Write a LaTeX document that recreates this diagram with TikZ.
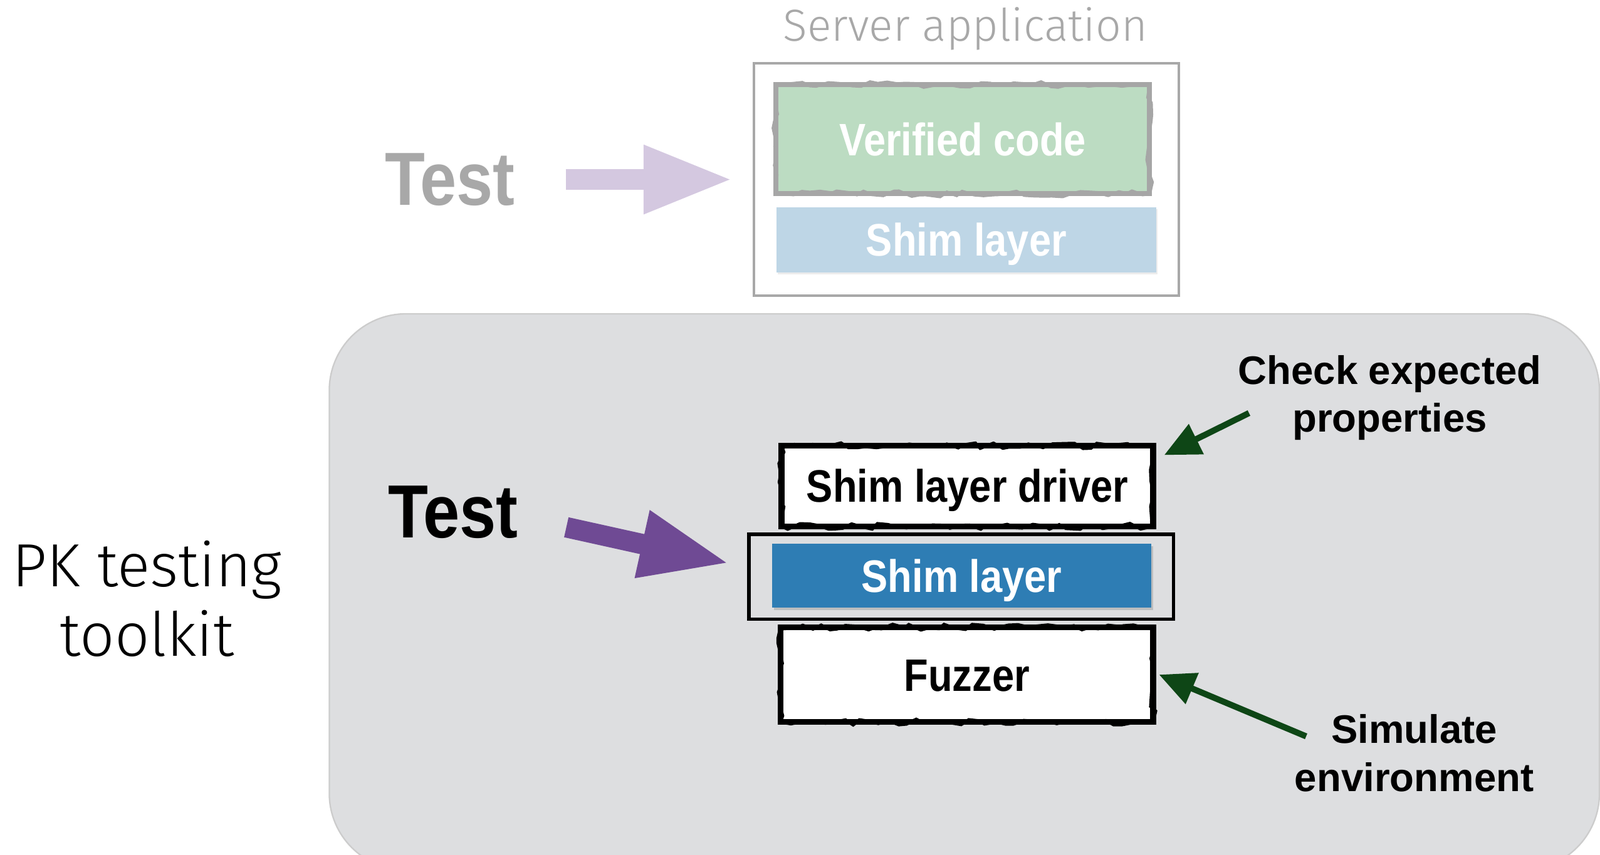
\documentclass[tikz,border=0pt]{standalone}
\usepackage{fontspec}
\setmainfont{Liberation Sans}
\newfontfamily\lightfont{Fira Sans Light}
\newfontfamily\condfont{Liberation Sans}[FakeStretch=0.87]
\usetikzlibrary{positioning,calc,arrows.meta,decorations.pathmorphing,shadows}

\definecolor{panelgray}{RGB}{221,222,224}
\definecolor{fadegray}{RGB}{168,168,168}
\definecolor{codegreen}{RGB}{188,220,194}
\definecolor{shimpale}{RGB}{190,214,230}
\definecolor{shimblue}{RGB}{46,125,180}
\definecolor{lilac}{RGB}{212,200,224}
\definecolor{plum}{RGB}{111,74,148}
\definecolor{pinegreen}{RGB}{14,70,22}

\tikzset{
  every node/.style={inner sep=0pt},
  layerfont/.style={font=\condfont\bfseries\fontsize{12.7}{15}\selectfont, text height=9.1pt, text depth=0pt},
  roughedge/.style={postaction={draw=#1, line width=0.9pt, decorate,
      decoration={random steps, segment length=2.5pt, amplitude=0.8pt}}},
  roughbox/.style={layerfont, fill=white, draw=black, line width=1.6pt, roughedge=black,
      drop shadow={shadow xshift=0.6pt, shadow yshift=-0.8pt, opacity=0.35}},
  paleroughbox/.style={layerfont, fill=codegreen, draw=gray!70, line width=1.4pt, text=white, roughedge=gray!70},
  palelayer/.style={layerfont, fill=shimpale, text=white,
      drop shadow={shadow xshift=0.4pt, shadow yshift=-0.6pt, opacity=0.15}},
  bluelayer/.style={layerfont, fill=shimblue, text=white,
      drop shadow={shadow xshift=0.5pt, shadow yshift=-0.7pt, opacity=0.35}},
  appframe/.style={draw=fadegray, line width=0.7pt},
  shimframe/.style={draw=black, line width=1pt},
  panel/.style={fill=panelgray, draw=gray!40, line width=0.4pt, rounded corners=0.75cm},
  testlabel/.style={font=\condfont\bfseries\fontsize{21}{25}\selectfont},
  title/.style={font=\lightfont\fontsize{12.5}{15}\selectfont, text=fadegray},
  toolkitlabel/.style={font=\lightfont\fontsize{17}{19.3}\selectfont, align=center},
  note/.style={font=\bfseries\fontsize{11.1}{13.4}\selectfont, align=center},
  fatarrow/.style={line width=5.7pt, -{Triangle[width=17.6pt,length=25pt]}},
  pinearrow/.style={draw=pinegreen, line width=1.7pt, -{Triangle[width=9pt,length=10pt]}}
}

\begin{document}
\begin{tikzpicture}[x=0.01cm,y=-0.01cm]
 \useasboundingbox (0,0) rectangle (1568,838);
 \clip (0,0) rectangle (1568,838);

 \node[title] (apptitle) at (946,28) {Server application};
 \node[appframe,minimum width=4.16cm,minimum height=2.28cm] (app) at (947,176) {};
 \node[paleroughbox,minimum width=3.66cm,minimum height=1.07cm] (verified) at (943.5,136.5) {Verified code};
 \node[palelayer,minimum width=3.72cm,minimum height=0.64cm] (paleshim) at (947,235) {Shim layer};
 \node[testlabel,text=fadegray] (fadedtest) at (441,176) {Test};
 \draw[fatarrow,draw=lilac,fill=lilac,shorten <=0.49cm,shorten >=0.19cm] (fadedtest.east) -- (app.west);

 \node[panel,anchor=north west,minimum width=12.44cm,minimum height=5.45cm] (toolkitpanel) at (322,307) {};
 \node[toolkitlabel] (toolkit) at (144,587) {PK testing\\toolkit};
 \node[testlabel] (test) at (444,502) {Test};
 \node[roughbox,minimum width=3.64cm,minimum height=0.79cm] (driver) at (948,476.5) {Shim layer driver};
 \node[shimframe,minimum width=4.16cm,minimum height=0.83cm] (shimbox) at (942,565.5) {};
 \node[bluelayer,minimum width=3.71cm,minimum height=0.63cm] (shim) at (942.5,564.5) {Shim layer};
 \node[roughbox,minimum width=3.65cm,minimum height=0.93cm] (fuzzer) at (947.5,661.5) {Fuzzer};
 \node[note] (check) at (1362,390) {Check expected\\properties};
 \node[note] (simulate) at (1386,738.5) {Simulate\\environment};

 \coordinate (testtail) at (555,517);
 \coordinate (checktail) at (1224,405);
 \coordinate (simtail) at (1280,722);
 \draw[fatarrow,draw=plum,fill=plum] (testtail) -- ($(shimbox.west)+(-17,-13)$);
 \draw[pinearrow] (checktail) -- ($(driver.north east)+(8,12)$);
 \draw[pinearrow] (simtail) -- ($(fuzzer.east)+(3,0)$);
\end{tikzpicture}
\end{document}
